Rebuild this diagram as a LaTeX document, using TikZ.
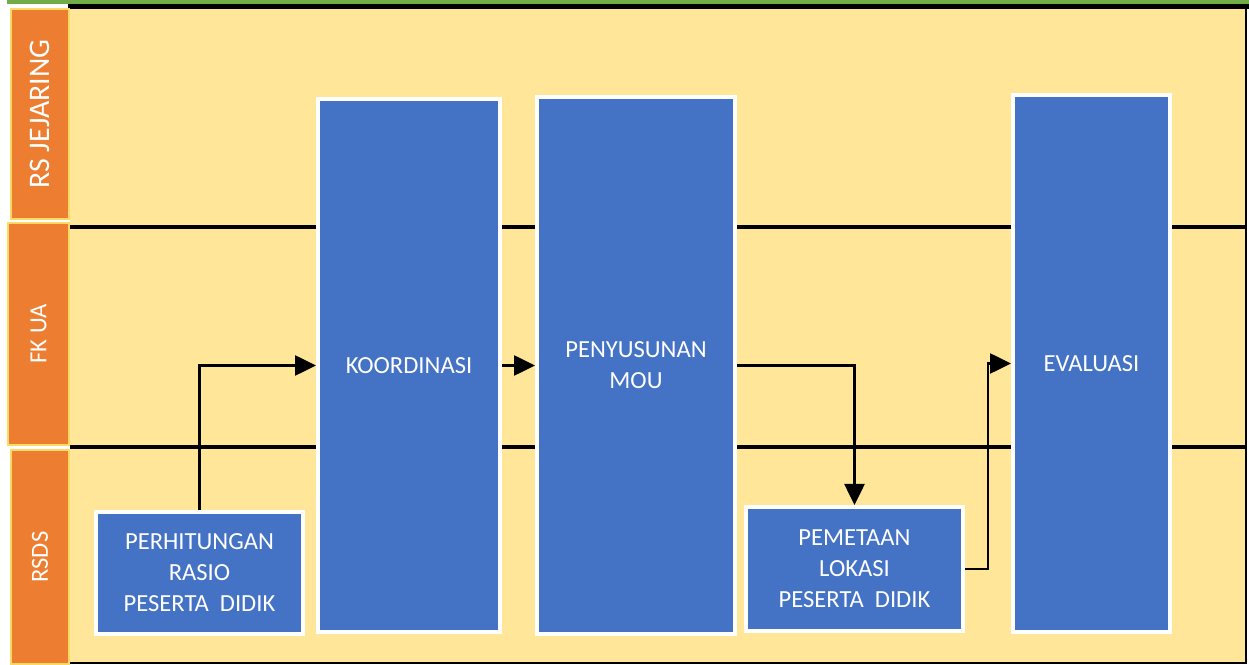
\documentclass[tikz,border=0pt]{standalone}
\usepackage{fontspec}
\setmainfont{Carlito}
\usetikzlibrary{arrows.meta,positioning}
\definecolor{laneorange}{HTML}{ED7D31}
\definecolor{laneborder}{HTML}{FFD966}
\definecolor{poolyellow}{HTML}{FFE699}
\definecolor{boxblue}{HTML}{4472C4}
\definecolor{topgreen}{HTML}{70AD47}

\begin{document}
\begin{tikzpicture}[
    x=0.02cm, y=-0.02cm,
    lane/.style={rectangle, draw=laneborder, fill=laneorange, line width=1.2pt, rotate=90, text=white, align=center, inner sep=0pt},
    process/.style={rectangle, draw=white, fill=boxblue, line width=2.3pt, text=white, align=center, inner sep=0pt, font=\fontsize{14}{17.6}\selectfont},
    flow/.style={line width=1.5pt, -{Triangle[length=0.42cm, width=0.4cm]}},
    divider/.style={line width=2.8pt}
]

\useasboundingbox (0,0) rectangle (1249,665);

% Pool background
\fill[topgreen] (7,0) rectangle (1249,4);
\fill[poolyellow] (70,8) rectangle (1246,663);
\draw[line width=2.5pt] (68,6.5) -- (1249,6.5);
\draw[line width=0.8pt] (1246,6) -- (1246,663) -- (70,663);

% Lanes
\node[lane, minimum width=4.2cm, minimum height=1.16cm, font=\fontsize{17}{20}\selectfont] (rsj) at (40,114) {RS JEJARING};
\node[lane, minimum width=4.44cm, minimum height=1.22cm, font=\fontsize{14}{17}\selectfont] (fkua) at (38.5,334) {FK UA};
\node[lane, minimum width=4.28cm, minimum height=1.16cm, font=\fontsize{14}{17}\selectfont] (rsds) at (40,557) {RSDS};

% Lane dividers
\draw[divider] (70,227) -- (1245,227);
\draw[divider] (70,447) -- (1245,447);

% Process boxes
\node[process, minimum width=4.14cm, minimum height=2.44cm] (perhitungan) at (199.5,573) {PERHITUNGAN\\RASIO\\PESERTA\ \ DIDIK};
\node[process, minimum width=3.64cm, minimum height=10.66cm] (koord) at (409,365.5) {KOORDINASI};
\node[process, minimum width=3.96cm, minimum height=10.74cm] (mou) at (636,365.5) {PENYUSUNAN\\MOU};
\node[process, minimum width=4.34cm, minimum height=2.48cm] (pemetaan) at (854.5,569) {PEMETAAN\\LOKASI\\PESERTA\ \ DIDIK};
\node[process, minimum width=3.14cm, minimum height=10.74cm] (evaluasi) at (1091.5,363.5) {EVALUASI};

% Flow
\draw[flow] (perhitungan.north) |- (koord.west);
\draw[flow] (koord.east) -- (mou.west);
\draw[flow] (mou.east) -| (pemetaan.north);
\draw[flow] (pemetaan.east) -- ++(23,0) |- (evaluasi.west);

\end{tikzpicture}
\end{document}
